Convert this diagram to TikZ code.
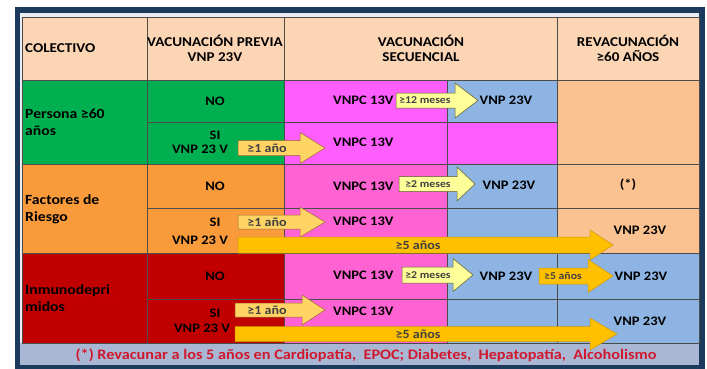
\documentclass[tikz,border=0pt]{standalone}
\usepackage{fontspec}
\setmainfont{Carlito}[FakeStretch=1.12]
\usetikzlibrary{decorations.pathmorphing}

% flecha de bloque: estilo, x inicio, x cabeza, x punta, y centro, semialto cuerpo, semialto cabeza
\newcommand{\flecha}[7]{%
  \draw[#1] (#2,#5-#6) -- (#3,#5-#6) -- (#3,#5-#7) -- (#4,#5)
    -- (#3,#5+#7) -- (#3,#5+#6) -- (#2,#5+#6) -- cycle;}

\begin{document}
\begin{tikzpicture}[x=1pt,y=-1pt]
  \definecolor{marino}{HTML}{1B3A5E}
  \definecolor{fondo}{HTML}{E9EDF3}
  \definecolor{pie}{HTML}{A9B7D5}
  \definecolor{cabecera}{HTML}{FCD5B5}
  \definecolor{melocoton}{HTML}{FAC191}
  \definecolor{verde}{HTML}{00B050}
  \definecolor{naranja}{HTML}{F99A3B}
  \definecolor{granate}{HTML}{C00000}
  \definecolor{magenta1}{HTML}{FF5EFF}
  \definecolor{rosa}{HTML}{FF62D2}
  \definecolor{azul}{HTML}{8EB4E3}
  \definecolor{amarclaro}{HTML}{FFFF99}
  \definecolor{oro}{HTML}{FFD364}
  \definecolor{ambar}{HTML}{FFC000}
  \definecolor{rojotexto}{HTML}{D0182C}
  \tikzset{
    celda/.style={font=\bfseries\fontsize{13}{15}\selectfont,
      inner sep=0pt, align=center},
    titulo/.style={celda, font=\bfseries\fontsize{13.5}{15}\selectfont},
    rotulo/.style={font=\bfseries\fontsize{14}{17}\selectfont,
      inner sep=0pt, align=left, anchor=west},
    vacuna/.style={celda, anchor=west},
    plazo/.style={font=\bfseries\fontsize{10.5}{13}\selectfont,
      inner sep=0pt, text=black!75},
    plazog/.style={font=\bfseries\fontsize{12.5}{14}\selectfont,
      inner sep=0pt, text=black!75},
    rejilla/.style={draw=black!70, line width=0.6pt},
    fclara/.style={fill=amarclaro, draw=black!45!olive, line width=0.5pt},
    foro/.style={fill=oro, draw=brown!80!black, line width=0.5pt},
    fambar/.style={fill=ambar, draw=ambar!80!black, line width=0.5pt},
    subraya/.style={draw=red!80!black, line width=0.5pt,
      decorate, decoration={snake, amplitude=0.7pt, segment length=3pt}}
  }
  \useasboundingbox (0,0) rectangle (707,369);

  % ======= marco y fondo =======
  \fill[marino] (15,7) rectangle (705,369);
  \fill[fondo] (20,13) rectangle (699,365);
  \fill[pie] (20,343) rectangle (699,365);

  % ======= celdas =======
  \fill[cabecera] (22,17) rectangle (699,80);
  \fill[verde] (22,80) rectangle (284,164);
  \fill[naranja] (22,164) rectangle (284,253);
  \fill[granate] (22,253) rectangle (284,343);
  \fill[magenta1] (284,80) rectangle (557,164);
  \fill[azul] (447,80) rectangle (557,122);
  \fill[rosa] (284,164) rectangle (447,343);
  \fill[azul] (447,164) rectangle (557,343);
  \fill[melocoton] (557,80) rectangle (699,253);
  \fill[azul] (557,253) rectangle (699,343);

  % ======= rejilla =======
  \draw[rejilla] (22,17) rectangle (699,343);
  \draw[rejilla] (147,17) -- (147,343);
  \draw[rejilla] (284,17) -- (284,343);
  \draw[rejilla] (447,80) -- (447,343);
  \draw[rejilla] (557,17) -- (557,343);
  \draw[rejilla] (22,80) -- (699,80);
  \draw[rejilla] (147,122) -- (557,122);
  \draw[rejilla] (22,164) -- (699,164);
  \draw[rejilla] (147,208) -- (699,208);
  \draw[rejilla] (22,253) -- (699,253);
  \draw[rejilla] (147,299) -- (699,299);

  % ======= cabecera =======
  \node[rotulo, font=\bfseries\fontsize{13.5}{15}\selectfont] (colectivo) at (25,48) {COLECTIVO};
  \node[titulo] (previa) at (215,48) {VACUNACIÓN PREVIA\\VNP 23V};
  \node[titulo] (secuencial) at (421,48) {VACUNACIÓN\\SECUENCIAL};
  \node[titulo] (revac) at (628,48) {REVACUNACIÓN\\≥60 AÑOS};

  % ======= Persona >=60 años =======
  \node[rotulo] (persona) at (25,122) {Persona ≥60\\años};
  \node[celda] (p-no) at (215,101) {NO};
  \node[celda] (p-si) at (215,135) {SI};
  \node[celda] (p-vnp) at (200,149) {VNP 23 V};
  \flecha{fclara}{396}{455}{478}{100.5}{7.5}{17.5}
  \flecha{foro}{238}{300}{325}{148}{7.5}{15.5}
  \node[vacuna] (p-vnpc1) at (333,100) {VNPC 13V};
  \node[vacuna] (p-vnpc2) at (333,142) {VNPC 13V};
  \node[celda] (p-vnp23) at (506,100) {VNP 23V};
  \node[plazo] (p-m12) at (425,100.5) {≥12 meses};
  \node[plazog] (p-a1) at (267,148) {≥1 año};

  % ======= Factores de Riesgo =======
  \node[rotulo] (factores) at (25,209) {Factores de\\Riesgo};
  \node[celda] (f-no) at (215,186) {NO};
  \node[celda] (f-si) at (215,222) {SI};
  \node[celda] (f-vnp) at (200,240) {VNP 23 V};
  \flecha{fclara}{399}{457}{475}{184}{7.5}{17}
  \flecha{foro}{238}{300}{325}{222}{7}{15}
  \flecha{fambar}{238}{590}{613}{245}{8}{15}
  \node[vacuna] (f-vnpc1) at (333,186) {VNPC 13V};
  \node[vacuna] (f-vnpc2) at (333,221) {VNPC 13V};
  \node[celda] (f-vnp23) at (509,185) {VNP 23V};
  \node[celda] (f-ast) at (628,185) {(*)};
  \node[celda] (f-rev) at (640,230) {VNP 23V};
  \node[plazo] (f-m2) at (428,184) {≥2 meses};
  \node[plazog] (f-a1) at (267,222) {≥1 año};
  \node[plazog] (f-a5) at (418,245) {≥5 años};

  % ======= Inmunodeprimidos =======
  \node[rotulo] (inmuno) at (25,298.5) {Inmunodepri\\midos};
  \draw[subraya] (25,297.5) -- (117,297.5);
  \draw[subraya] (25,313.5) -- (66,313.5);
  \node[celda] (i-no) at (215,276) {NO};
  \node[celda] (i-si) at (215,313) {SI};
  \node[celda] (i-vnp) at (202,328) {VNP 23 V};
  \flecha{fclara}{402}{453}{473}{275}{8}{16.5}
  \flecha{fambar}{539}{588}{613}{276}{8}{16.5}
  \flecha{foro}{235}{302}{325}{310}{7}{15}
  \flecha{fambar}{235}{590}{617}{334}{7.5}{16}
  \node[vacuna] (i-vnpc1) at (333,275) {VNPC 13V};
  \node[vacuna] (i-vnpc2) at (333,311) {VNPC 13V};
  \node[celda] (i-vnp23) at (506,276) {VNP 23V};
  \node[celda] (i-rev1) at (641,276) {VNP 23V};
  \node[celda] (i-rev2) at (640,321) {VNP 23V};
  \node[plazo] (i-m2) at (428,275) {≥2 meses};
  \node[plazo] (i-a5b) at (563,276) {≥5 años};
  \node[plazog] (i-a1) at (267,310) {≥1 año};
  \node[plazog] (i-a5) at (418,334) {≥5 años};

  % ======= nota =======
  \node[font=\bfseries\fontsize{14.5}{16}\selectfont, text=rojotexto, inner sep=0pt]
    (nota) at (366,355) {(*) Revacunar a los 5 años en Cardiopatía,\ \ EPOC; Diabetes,\ \ Hepatopatía,\ \ Alcoholismo};
\end{tikzpicture}
\end{document}
